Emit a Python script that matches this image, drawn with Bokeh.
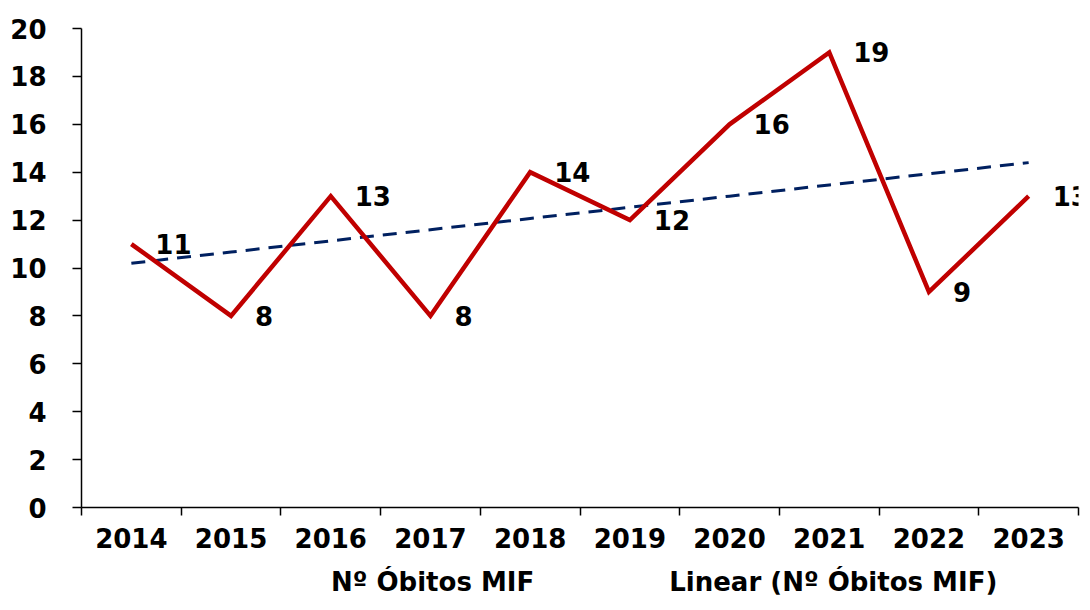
import numpy as np
from bokeh.plotting import figure
from bokeh.layouts import column
from bokeh.models import (Range1d, LinearAxis, FixedTicker,
                          ColumnDataSource, LabelSet, Legend, LegendItem)
from bokeh.core.properties import value
from bokeh.embed import file_html
from bokeh.resources import INLINE

years = ["2014", "2015", "2016", "2017", "2018", "2019", "2020", "2021", "2022", "2023"]
obitos = [11, 8, 13, 8, 14, 12, 16, 19, 9, 13]
y_ticks = [0, 2, 4, 6, 8, 10, 12, 14, 16, 18, 20]
series_names = ["Nº Óbitos MIF", "Linear (Nº Óbitos MIF)"]

# category centres on a numeric axis (one unit per year)
n = len(years)
xpos = [i + 0.5 for i in range(n)]

# linear trend (as Excel's linear trendline)
idx = np.arange(n)
slope, intercept = np.polyfit(idx, obitos, 1)
trend = list(intercept + slope * idx)

FONT = "DejaVu Sans"
FS = "26px"
RED = "#C00000"
NAVY = "#002060"

p = figure(frame_width=997, frame_height=479, x_range=Range1d(0, n), y_range=Range1d(0, 20),
           output_backend="svg", toolbar_location=None, x_axis_location=None,
           min_border_top=28, min_border_right=12, min_border_left=81, min_border_bottom=0)
p.outline_line_color = None
for g in p.grid:
    g.visible = False

# y axis
ya = p.yaxis[0]
ya.ticker = FixedTicker(ticks=y_ticks)
ya.axis_line_width = 1.5
ya.axis_line_color = "black"
ya.major_tick_line_width = 1.5
ya.major_tick_out = 9
ya.major_tick_in = 0
ya.minor_tick_line_color = None
ya.major_label_text_font = FONT
ya.major_label_text_font_style = "bold"
ya.major_label_text_font_size = FS
ya.major_label_text_color = "black"
ya.major_label_standoff = 26

# x axis: labels at category centres, tick marks at category boundaries
xa = LinearAxis(ticker=FixedTicker(ticks=xpos, minor_ticks=list(range(n + 1))),
                major_label_overrides={x: y for x, y in zip(xpos, years)})
xa.axis_line_width = 1.5
xa.axis_line_color = "black"
xa.major_tick_line_color = None
xa.major_tick_out = 0
xa.major_tick_in = 0
xa.minor_tick_line_color = "black"
xa.minor_tick_line_width = 1.5
xa.minor_tick_out = 8
xa.minor_tick_in = 0
xa.major_label_text_font = FONT
xa.major_label_text_font_style = "bold"
xa.major_label_text_font_size = FS
xa.major_label_text_color = "black"
xa.major_label_standoff = 12
p.add_layout(xa, "below")

src = ColumnDataSource(dict(x=xpos, y=obitos, t=[str(v) for v in obitos], tr=trend))

r_tr = p.line("x", "tr", source=src, line_color=NAVY, line_width=3, line_dash="14 9")
r_ln = p.line("x", "y", source=src, line_color=RED, line_width=4.5, line_join="miter")

labels = LabelSet(x="x", y="y", text="t", source=src, x_offset=24, y_offset=0,
                  text_baseline="middle", text_align="left", text_font=value(FONT),
                  text_font_style="bold", text_font_size=value(FS), text_color="black")
p.add_layout(labels)

# legend strip below the chart
lg = figure(width=1090, height=50, x_range=Range1d(0, 1), y_range=Range1d(0, 1),
            output_backend="svg", toolbar_location=None,
            x_axis_location=None, y_axis_location=None, min_border=0)
lg.outline_line_color = None
for g in lg.grid:
    g.visible = False
k1 = lg.line(x=[], y=[], line_color=RED, line_width=4.5)
k2 = lg.line(x=[], y=[], line_color=NAVY, line_width=3, line_dash="14 9")

legend = Legend(items=[LegendItem(label=series_names[0], renderers=[k1]),
                       LegendItem(label=series_names[1], renderers=[k2])],
                orientation="horizontal", location=(175, 3))
legend.border_line_color = None
legend.background_fill_alpha = 0
legend.label_text_font = FONT
legend.label_text_font_style = "bold"
legend.label_text_font_size = FS
legend.label_text_color = "black"
legend.glyph_width = 70
legend.label_standoff = 5
legend.spacing = 60
legend.padding = 0
legend.margin = 0
lg.add_layout(legend)

layout = column(p, lg)
open("out.html", "w").write(file_html(layout, INLINE))
